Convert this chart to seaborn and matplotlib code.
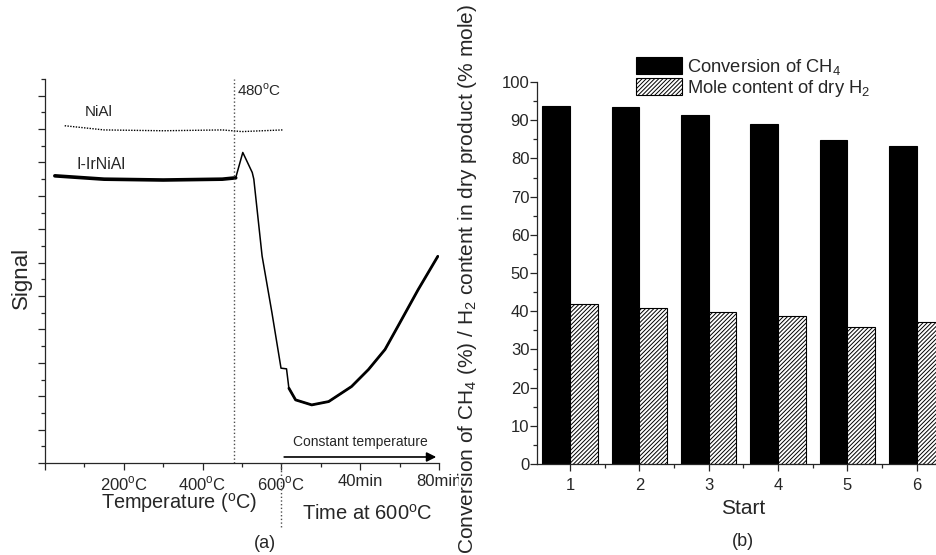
import matplotlib
matplotlib.use('Agg')
import matplotlib.pyplot as plt
import seaborn as sns
import pandas as pd
from matplotlib.transforms import Bbox, TransformedBbox

sns.set_style('ticks')
plt.rcParams['font.family'] = ['Liberation Sans', 'DejaVu Sans']
plt.rcParams['mathtext.fontset'] = 'custom'
plt.rcParams['mathtext.rm'] = 'Liberation Sans'
plt.rcParams['hatch.linewidth'] = 0.7
plt.rcParams['axes.linewidth'] = 0.9

DEG = r'$^\mathregular{o}$'

# (a) signal traces -- x axis: 0..600 = temperature (C), 600..1000 = 0..80 min at 600 C
nial_x = [50, 150, 300, 450, 500, 603]
nial_y = [20.2, 19.95, 19.9, 19.95, 19.85, 19.95]
irni_x = [25, 150, 300, 450, 484, 502, 526, 530, 551, 576, 599, 613, 619,
          636, 677, 720, 778, 821, 863, 896, 947, 997]
irni_y = [17.2, 17.0, 16.95, 17.0, 17.08, 18.6, 17.4, 17.0, 12.4, 9.0, 5.68, 5.64, 4.48,
          3.78, 3.48, 3.68, 4.58, 5.6, 6.8, 8.2, 10.38, 12.38]
xtick_pos = [0, 200, 400, 600, 800, 1000]
xtick_lab = ['', '200' + DEG + 'C', '400' + DEG + 'C', '600' + DEG + 'C', '40min', '80min']

# (b) stability runs
starts = ['1', '2', '3', '4', '5', '6']
ch4_conv = [93.7, 93.4, 91.4, 89.1, 84.8, 83.3]
h2_content = [42.0, 40.9, 39.9, 38.8, 35.9, 37.1]
series_names = ['Conversion of CH$_\\mathregular{4}$', 'Mole content of dry H$_\\mathregular{2}$']

fig = plt.figure(figsize=(9.37, 5.55), dpi=100)
W, H = 937, 555

# ---------------- panel (a)
axa = fig.add_axes([45 / W, (H - 463) / H, 394 / W, 384 / H])
sns.lineplot(x=nial_x, y=nial_y, ax=axa, color='black', lw=1.0, linestyle=(0, (1, 1)))
sns.lineplot(x=irni_x, y=irni_y, ax=axa, color='black', lw=1.1)
# noisy stretches of the trace look thicker
sns.lineplot(x=irni_x[:5], y=irni_y[:5], ax=axa, color='black', lw=2.6)
sns.lineplot(x=irni_x[12:], y=irni_y[12:], ax=axa, color='black', lw=2.0)
axa.set_xlim(0, 1000)
axa.set_ylim(0, 23)
axa.set_xticks(xtick_pos)
axa.set_xticklabels(xtick_lab, fontsize=12)
axa.set_xticks(range(100, 1000, 200), minor=True)
axa.set_yticks(range(0, 23, 2))
axa.set_yticks(range(1, 24, 2), minor=True)
axa.set_yticklabels([])
axa.tick_params(which='major', length=5, width=0.9, pad=3)
axa.tick_params(which='minor', length=3, width=0.9)
sns.despine(ax=axa)
# the reference cuts "80min" where panel (b) begins
clip = TransformedBbox(Bbox.from_extents(0, 0, 459 / W, 1), fig.transFigure)
for lab in axa.get_xticklabels():
    lab.set_clip_box(clip)
    lab.set_clip_on(True)

axa.axvline(480, color='0.3', lw=1.0, linestyle=':')
axa.plot([600, 600], [0, -3.85], color='0.3', lw=1.0, linestyle=':', clip_on=False)
axa.annotate('', xy=(1000, 0.36), xytext=(600, 0.36),
             arrowprops=dict(arrowstyle='-|>', color='black', lw=1.2, mutation_scale=14))
axa.text(800, 1.25, 'Constant temperature', fontsize=10, ha='center', va='center')
axa.text(101, 21.0, 'NiAl', fontsize=11, va='center')
axa.text(81, 17.9, 'I-IrNiAl', fontsize=11.5, va='center')
axa.text(487, 22.3, '480' + DEG + 'C', fontsize=11, va='center')

fig.text(21 / W, 1 - 278 / H, 'Signal', rotation=90, fontsize=16, ha='center', va='center')
fig.text(179 / W, 1 - 509 / H, 'Temperature (' + DEG + 'C)', fontsize=14.3, ha='center', va='baseline')
fig.text(367 / W, 1 - 520 / H, 'Time at 600' + DEG + 'C', fontsize=14.5, ha='center', va='baseline')
fig.text(265 / W, 1 - 543 / H, '(a)', fontsize=13, ha='center', va='center')

# ---------------- panel (b)
df = pd.DataFrame({
    'Start': starts * 2,
    'value': ch4_conv + h2_content,
    'series': [series_names[0]] * len(starts) + [series_names[1]] * len(starts),
})
axb = fig.add_axes([537 / W, (H - 464) / H, (W - 537) / W, 382 / H])
sns.barplot(data=df, x='Start', y='value', hue='series', palette=['black', 'white'],
            saturation=1, width=0.8, edgecolor='black', linewidth=0.8, legend=False, ax=axb)
for bar in axb.containers[1]:
    bar.set_hatch('////////')
axb.set_xlim(-0.475, 5.29)
axb.set_ylim(0, 100)
axb.set_yticks(range(0, 101, 10))
axb.set_yticks(range(5, 100, 10), minor=True)
axb.set_xticks(range(len(starts)))
axb.set_xticklabels(starts)
axb.set_xticks([i + 0.5 for i in range(len(starts) - 1)], minor=True)
axb.tick_params(which='major', length=5, width=0.9, labelsize=12)
axb.tick_params(axis='y', pad=0.5)
axb.tick_params(axis='x', pad=5)
axb.tick_params(which='minor', length=3, width=0.9)
axb.set_xlabel('')
axb.set_ylabel('')
sns.despine(ax=axb)

axb.legend(axb.containers, series_names, loc='upper left', bbox_to_anchor=(636 / W, 1 - 57 / H),
           bbox_transform=fig.transFigure, frameon=False, fontsize=13.2, handlelength=2.5,
           handleheight=1.05, handletextpad=0.3, labelspacing=0.05, borderpad=0, borderaxespad=0)

fig.text(468 / W, 1 - 279 / H,
         'Conversion of CH$_\\mathregular{4}$ (%) / H$_\\mathregular{2}$ content in dry product (% mole)',
         rotation=90, fontsize=15, ha='center', va='center')
fig.text(743 / W, 1 - 508 / H, 'Start', fontsize=15, ha='center', va='center')
fig.text(743 / W, 1 - 542 / H, '(b)', fontsize=13, ha='center', va='center')

fig.savefig('out.png', dpi=100, facecolor='white')
